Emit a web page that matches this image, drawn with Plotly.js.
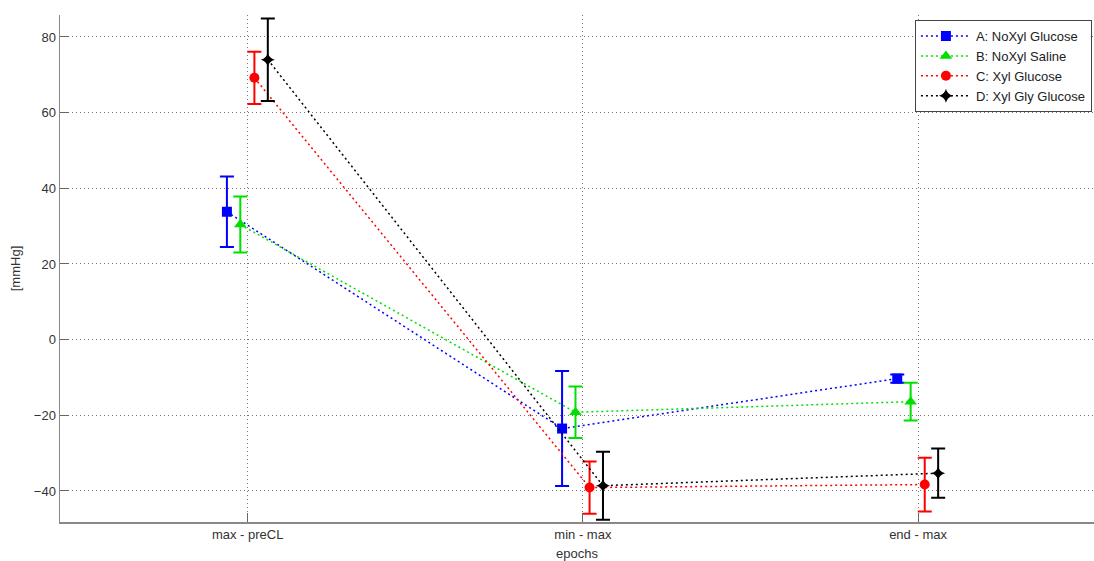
<!DOCTYPE html>
<html>
<head>
<meta charset="utf-8">
<script src="https://cdn.plot.ly/plotly-3.0.1.min.js"></script>
<style>html,body{margin:0;padding:0;background:#fff;}#chart{width:1094px;height:561px;}</style>
</head>
<body>
<div id="chart"></div>
<script>
var categories = ['max - preCL', 'min - max', 'end - max'];
var seriesNames = ['A: NoXyl Glucose', 'B: NoXyl Saline', 'C: Xyl Glucose', 'D: Xyl Gly Glucose'];
var meanA = [33.8, -23.5, -10.3];
var errA  = [9.3, 15.2, 1.1];
var meanB = [30.4, -19.2, -16.4];
var errB  = [7.4, 6.8, 5.0];
var meanC = [69.2, -39.1, -38.3];
var errC  = [6.9, 6.9, 7.1];
var meanD = [74.0, -38.6, -35.3];
var errD  = [10.9, 9.0, 6.5];

var means = [meanA, meanB, meanC, meanD];
var errs = [errA, errB, errC, errD];
var colors = ['#0000ff', '#00e000', '#ff0000', '#000000'];
var symbols = ['square', 'triangle-up', 'circle', 'star-diamond'];
var msizes = [10, 11, 10, 10];
var offsets = [-0.062, -0.022, 0.02, 0.06];

var traces = means.map(function(m, i) {
  return {
    type: 'scatter',
    mode: 'lines+markers',
    name: seriesNames[i],
    x: categories.map(function(c, j) { return j + 1 + offsets[i]; }),
    y: m,
    line: {color: colors[i], dash: '2px,3px', width: 1.5},
    marker: {color: colors[i], symbol: symbols[i], size: msizes[i]},
    error_y: {type: 'data', array: errs[i], visible: true, color: colors[i], thickness: 2, width: 7}
  };
});

var layout = {
  width: 1094, height: 561,
  margin: {l: 60, r: 0, t: 15, b: 39},
  paper_bgcolor: '#fff', plot_bgcolor: '#fff',
  font: {family: 'Liberation Sans, Arial, sans-serif', size: 13, color: '#333'},
  showlegend: true,
  legend: {x: 0.998, xanchor: 'right', y: 0.99, yanchor: 'top', bgcolor: '#fff',
           bordercolor: '#444', borderwidth: 1, font: {size: 13, color: '#222'},
           tracegroupgap: 0, itemwidth: 50},
  xaxis: {
    range: [0.44, 3.525], tickvals: [1, 2, 3], ticktext: categories,
    showgrid: true, gridcolor: '#777', griddash: '1px,3px', gridwidth: 1,
    zeroline: false, showline: true, linecolor: '#888', linewidth: 1.5,
    ticks: 'inside', ticklen: 9, tickcolor: '#666',
    title: {text: 'epochs', font: {size: 13, color: '#333'}, standoff: 10}
  },
  yaxis: {
    range: [-48.2, 85.8], tickvals: [-40, -20, 0, 20, 40, 60, 80],
    showgrid: true, gridcolor: '#777', griddash: '1px,3px', gridwidth: 1,
    zeroline: false, showline: true, linecolor: '#888', linewidth: 1.5,
    ticks: 'inside', ticklen: 9, tickcolor: '#666',
    title: {text: '[mmHg]', font: {size: 13, color: '#333'}, standoff: 10}
  }
};

Plotly.newPlot('chart', traces, layout, {displayModeBar: false, staticPlot: true});
</script>
</body>
</html>
